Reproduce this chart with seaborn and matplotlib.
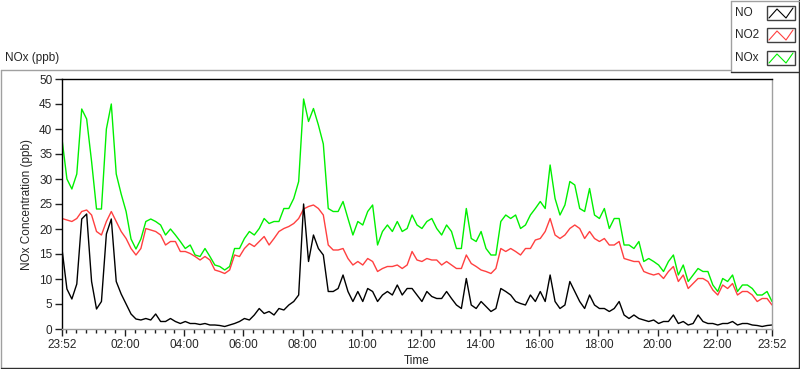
import matplotlib
matplotlib.use("Agg")
import matplotlib.pyplot as plt
import matplotlib.dates as mdates
from matplotlib.lines import Line2D
from matplotlib.patches import Rectangle
import seaborn as sns
import pandas as pd

# readings every 10 minutes, 23:52 -> 23:52 next day
start = "2000-01-01 23:52"

no_ppb = [
    16, 8, 6, 9, 22, 23, 9.5, 4, 5.5, 19, 22, 9.5, 7, 5, 3, 2, 1.8, 2.1, 1.8, 3, 1.5, 1.5, 2.1, 1.5, 1.1,
    1.5, 1.1, 1.1, 0.9, 1.1, 0.8, 0.8, 0.7, 0.5, 0.8, 1.1, 1.5, 2.1, 1.8, 2.8, 4.1, 3.1, 3.5, 2.8, 4.1, 3.8, 4.8, 5.5, 6.8,
    25, 13.5, 18.8, 16.1, 14.8, 7.5, 7.5, 8.1, 10.8, 7.5, 5.5, 7.5, 5.5, 8.1, 7.5, 5.5, 6.8, 7.5, 6.8, 8.8, 6.8, 8.1, 8.1, 6.8, 5.5,
    7.5, 6.5, 6.1, 6.1, 7.5, 6.1, 4.8, 4.1, 10.1, 4.8, 4.1, 5.5, 4.5, 3.5, 4.1, 8.1, 7.5, 6.8, 5.5, 5.1, 4.8, 6.8, 5.5, 7.5,
    5.5, 10.8, 5.5, 4.1, 4.8, 9.5, 7.5, 5.5, 4.1, 6.8, 4.8, 4.1, 4.1, 3.5, 4.1, 5.5, 2.8, 2.1, 2.8, 2.1, 1.8, 1.5, 1.8, 1.1, 1.5,
    1.5, 2.8, 1.1, 1.5, 0.8, 1.1, 2.8, 1.5, 1.1, 1.1, 0.8, 1.1, 1.1, 1.5, 0.8, 1.1, 1.1, 0.8, 0.7, 0.5, 0.7, 0.8,
]

no2_ppb = [
    22.1, 21.8, 21.5, 22.1, 23.5, 23.8, 22.8, 19.5, 18.8, 21.5, 23.5, 21.5, 19.5, 18.1, 16.1, 14.8, 16.1, 20.1, 19.8, 19.5, 18.8, 16.8, 17.5, 17.5, 15.5,
    15.5, 15.1, 14.5, 13.8, 14.5, 13.8, 11.8, 11.5, 11.1, 11.8, 14.8, 14.5, 16.1, 17.1, 16.5, 17.5, 18.5, 16.8, 18.1, 19.5, 20.1, 20.5, 21.1, 22.1,
    24, 24.5, 24.8, 24.1, 22.8, 16.8, 15.8, 15.8, 16.1, 14.1, 12.8, 13.5, 12.8, 14.1, 13.5, 11.5, 12.1, 12.5, 12.5, 12.8, 12.1, 12.8, 15.5, 13.8, 13.5,
    14.1, 13.8, 13.8, 12.8, 13.5, 12.8, 12.1, 12.1, 14.8, 13.1, 12.5, 11.8, 11.5, 11.1, 12.1, 16.1, 15.5, 16.1, 15.5, 14.8, 16.1, 16.1, 17.8, 18.1,
    19.5, 22.1, 18.8, 18.1, 18.8, 20.1, 20.8, 20.1, 18.1, 19.5, 18.1, 17.5, 18.1, 16.8, 16.8, 17.5, 14.1, 13.8, 13.5, 13.5, 11.5, 11.1, 10.8, 11.1, 10.1,
    11.5, 12.5, 9.5, 10.8, 8.1, 9.1, 10.1, 10.1, 9.5, 7.8, 6.8, 8.8, 8.1, 9.1, 6.8, 7.5, 7.5, 6.8, 5.5, 6.1, 6.1, 4.8,
]

nox_ppb = [
    38, 30, 28, 31, 44, 42, 33.5, 24, 24, 40, 45, 31, 27, 23.5, 18, 16, 18, 21.5, 22, 21.5, 20.8, 18.8, 20, 18.8, 17.5,
    16.1, 16.8, 14.8, 14.5, 16.1, 14.5, 12.8, 12.5, 11.8, 12.5, 16.1, 16.1, 18.1, 19.5, 18.8, 20.1, 22.1, 21.1, 21.5, 21.5, 24.1, 24.1, 26.1, 29.5,
    46, 41.5, 44.1, 40.8, 37, 24.1, 23.5, 23.5, 25.5, 22.1, 18.8, 21.5, 20.8, 23.5, 24.8, 16.8, 19.5, 20.8, 19.5, 21.5, 19.5, 20.1, 22.8, 20.8, 20.1,
    21.5, 22.1, 20.1, 18.8, 20.8, 19.5, 16.1, 16.1, 24.1, 18.1, 17.5, 19.5, 16.1, 14.8, 14.8, 21.5, 22.8, 22.1, 22.8, 20.1, 20.8, 22.8, 24.1, 25.5,
    24.1, 32.8, 26.1, 22.8, 24.8, 29.5, 28.8, 24.1, 23.5, 28.1, 22.8, 22.1, 24.1, 20.1, 22.1, 22.1, 16.8, 16.8, 16.1, 17.5, 13.5, 14.1, 13.5, 12.8, 11.5,
    13.5, 14.8, 10.8, 12.8, 9.5, 10.8, 12.1, 11.5, 11.5, 8.8, 7.5, 10.1, 9.5, 10.8, 7.5, 8.8, 8.8, 8.1, 6.8, 6.8, 7.5, 5.5,
]

series_names = ["NO", "NO2", "NOx"]
series_colors = {"NO": "#000000", "NO2": "#ff4040", "NOx": "#00f000"}
y_ticks = [0, 5, 10, 15, 20, 25, 30, 35, 40, 45, 50]

times = pd.date_range(start, periods=len(no_ppb), freq="10min")
df = pd.DataFrame({"Time": times, "NO": no_ppb, "NO2": no2_ppb, "NOx": nox_ppb})
df_long = df.melt(id_vars="Time", var_name="species", value_name="ppb")

sns.set_style("white")
plt.rcParams["font.family"] = ["Liberation Sans", "DejaVu Sans"]

W, H = 800, 369
fig = plt.figure(figsize=(W / 100, H / 100), dpi=100)
ax = fig.add_axes([62 / W, 1 - 329 / H, 710 / W, 250 / H])

sns.lineplot(data=df_long, x="Time", y="ppb", hue="species",
             hue_order=["NOx", "NO2", "NO"], palette=series_colors,
             linewidth=1.0, legend=False, ax=ax)

# axes ranges and ticks
ax.set_xlim(times[0], times[-1])
ax.set_ylim(0, 50)
ax.set_yticks(y_ticks)
major = [times[0]] + list(pd.date_range("2000-01-02 02:00", "2000-01-02 22:00", freq="2h")) + [times[-1]]
ax.set_xticks(major)
ax.xaxis.set_major_formatter(mdates.DateFormatter("%H:%M"))
ax.xaxis.set_minor_locator(mdates.MinuteLocator(byminute=[0, 20, 40]))
ax.tick_params(axis="both", which="major", direction="out", length=5, width=1,
               labelsize=8.5, pad=2, bottom=True, left=True, color="#202020")
ax.tick_params(axis="x", which="minor", direction="out", length=3, width=1,
               bottom=True, color="#202020")

ax.set_xlabel("Time", fontsize=8.5, labelpad=3)
ax.set_ylabel("NOx Concentration (ppb)", fontsize=8.5, labelpad=4)

# sunken plot frame
for side in ["top", "left"]:
    ax.spines[side].set_color("#000000")
for side in ["bottom", "right"]:
    ax.spines[side].set_color("#a0a0a0")
for s in ax.spines.values():
    s.set_linewidth(1)


def px_line(x0, y0, x1, y1, color):
    fig.add_artist(Line2D([x0 / W, x1 / W], [1 - y0 / H, 1 - y1 / H],
                          transform=fig.transFigure, color=color, lw=1))


# outer chart frame
px_line(0.5, 69.5, 730, 69.5, "#a0a0a0")
px_line(0.5, 69.5, 0.5, 367.5, "#a0a0a0")
px_line(0.5, 367.5, 798.5, 367.5, "#303030")
px_line(798.5, 0, 798.5, 367.5, "#303030")

fig.text(5 / W, 1 - 58 / H, "NOx (ppb)", fontsize=8.5, va="center", ha="left")

# legend panel
px_line(730.5, 0.5, 798.5, 0.5, "#a0a0a0")
px_line(730.5, 0.5, 730.5, 72, "#a0a0a0")
px_line(730.5, 71.5, 798.5, 71.5, "#303030")
legend_rows = [13, 35, 58]
for name, yc in zip(series_names, legend_rows):
    fig.text(735 / W, 1 - yc / H, name, fontsize=8.5, va="center", ha="left")
    fig.add_artist(Rectangle((767 / W, 1 - (yc + 7) / H), 28 / W, 14 / H,
                             transform=fig.transFigure, facecolor="white",
                             edgecolor="#404040", lw=1))
    zx = [769, 777, 786, 793]
    zy = [yc + 5, yc - 4, yc + 5, yc - 5]
    fig.add_artist(Line2D([v / W for v in zx], [1 - v / H for v in zy],
                          transform=fig.transFigure,
                          color=series_colors[name], lw=0.8))

fig.savefig("out.png", dpi=100)
